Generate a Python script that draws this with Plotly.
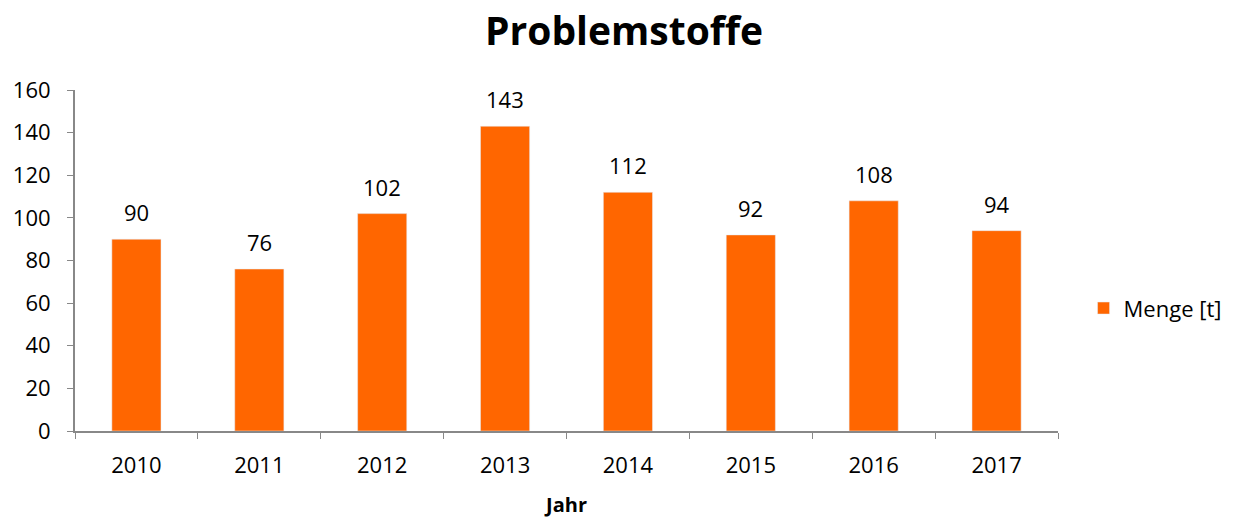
import plotly.graph_objects as go

# Data
years = ["2010", "2011", "2012", "2013", "2014", "2015", "2016", "2017"]
menge = [90, 76, 102, 143, 112, 92, 108, 94]

fig = go.Figure()
fig.add_trace(go.Bar(
    x=years,
    y=menge,
    name="Menge [t]",
    marker=dict(color="#FF6600"),
    width=0.4,
))

# value labels above the bars (category index positions on the x axis)
for i, val in enumerate(menge):
    fig.add_annotation(x=i, y=val, text=str(val), showarrow=False,
                       yanchor="bottom", yshift=10, font=dict(size=22, color="black"))

fig.update_layout(
    title=dict(text="<b>Problemstoffe</b>", x=0.4976, xanchor="center", y=0.955, yanchor="middle",
               font=dict(size=39, color="black")),
    font=dict(family="Open Sans, sans-serif", size=22, color="black"),
    width=1238,
    height=518,
    margin=dict(l=67, r=188, t=82, b=95, autoexpand=False),
    plot_bgcolor="white",
    paper_bgcolor="white",
    showlegend=True,
    legend=dict(x=1.026, xanchor="left", y=0.36, yanchor="middle", font=dict(size=22),
                itemwidth=30),
    xaxis=dict(
        type="category",
        title=dict(text="<b>Jahr</b>", font=dict(size=20), standoff=20),
        showline=True, linecolor="#888888", linewidth=2,
        ticks="outside", tickson="boundaries", ticklen=6, tickcolor="#888888",
        ticklabelstandoff=14,
        tickfont=dict(size=22),
    ),
    yaxis=dict(
        range=[0, 160], dtick=20,
        showline=True, linecolor="#888888", linewidth=2,
        ticks="outside", ticklen=6, tickcolor="#888888",
        ticklabelstandoff=12,
        showgrid=False, zeroline=False,
        tickfont=dict(size=22),
    ),
)

fig.write_html("out.html")
